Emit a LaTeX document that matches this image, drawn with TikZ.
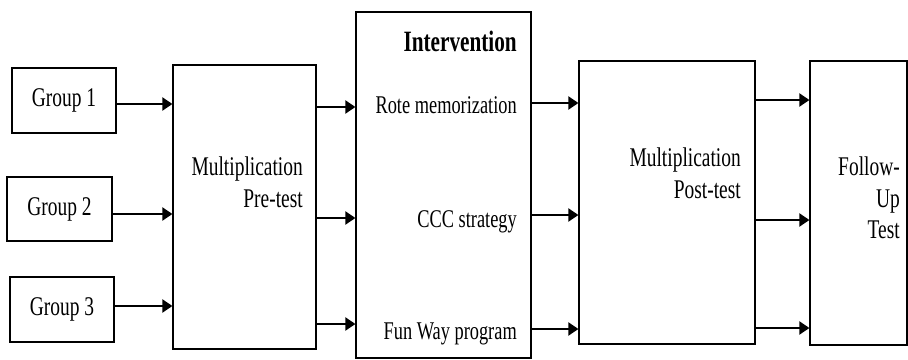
\documentclass[tikz,border=0pt]{standalone}
\usepackage{fontspec}
\setmainfont{Liberation Serif}[FakeStretch=0.72]
\usepackage{tikz}
\usetikzlibrary{arrows.meta}

\begin{document}
\begin{tikzpicture}[
  x=1pt, y=-1pt,
  font=\fontsize{27}{31.5}\selectfont,
  box/.style={draw=black, line width=1.2pt, inner sep=0pt, align=center},
  label/.style={inner sep=0pt, anchor=base east, font=\fontsize{25.5}{30}\selectfont},
  lines/.style={inner sep=0pt, anchor=north east, align=right},
  arrow/.style={-{Triangle[length=10pt, width=13pt]}, line width=2pt, draw=black}
]
  \useasboundingbox (0,0) rectangle (908,359);

  % groups and tests
  \node[box, minimum width=104pt, minimum height=65pt] (g1) at (64,100.5) {Group 1};
  \node[box, minimum width=105pt, minimum height=64pt] (g2) at (59.5,209) {Group 2};
  \node[box, minimum width=104pt, minimum height=65pt] (g3) at (62,309.5) {Group 3};
  \node[box, minimum width=143pt, minimum height=284pt] (pre) at (244.5,207) {};
  \node[box, minimum width=175pt, minimum height=346pt] (int) at (443.5,185) {};
  \node[box, minimum width=176pt, minimum height=283pt] (post) at (667,202.5) {};
  \node[box, minimum width=97pt, minimum height=284pt] (follow) at (858.5,203) {};

  % texts inside the tall boxes
  \node[lines] (pretxt) at (303,156.6) {Multiplication\\Pre-test};
  \node[label, font=\fontsize{29.5}{30}\selectfont\bfseries] (head) at (517,51) {Intervention};
  \node[label] (rote) at (517,113) {Rote memorization};
  \node[label] (ccc) at (517,227) {CCC strategy};
  \node[label] (fun) at (517,339) {Fun Way program};
  \node[lines] (posttxt) at (741,147.6) {Multiplication\\Post-test};
  \node[lines] (followtxt) at (900,156.6) {Follow-\\Up\\Test};

  % arrow rows
  \coordinate (a1) at (0,104);
  \coordinate (a2) at (0,214);
  \coordinate (a3) at (0,306);
  \coordinate (b1) at (0,107);
  \coordinate (b2) at (0,218);
  \coordinate (b3) at (0,324);
  \coordinate (c1) at (0,103);
  \coordinate (c2) at (0,215);
  \coordinate (c3) at (0,329);
  \coordinate (d1) at (0,100);
  \coordinate (d2) at (0,220);
  \coordinate (d3) at (0,328);

  \draw[arrow] (g1.east |- a1) -- (pre.west |- a1);
  \draw[arrow] (g2.east |- a2) -- (pre.west |- a2);
  \draw[arrow] (g3.east |- a3) -- (pre.west |- a3);
  \draw[arrow] (pre.east |- b1) -- (int.west |- b1);
  \draw[arrow] (pre.east |- b2) -- (int.west |- b2);
  \draw[arrow] (pre.east |- b3) -- (int.west |- b3);
  \draw[arrow] (int.east |- c1) -- (post.west |- c1);
  \draw[arrow] (int.east |- c2) -- (post.west |- c2);
  \draw[arrow] (int.east |- c3) -- (post.west |- c3);
  \draw[arrow] (post.east |- d1) -- (follow.west |- d1);
  \draw[arrow] (post.east |- d2) -- (follow.west |- d2);
  \draw[arrow] (post.east |- d3) -- (follow.west |- d3);
\end{tikzpicture}
\end{document}
